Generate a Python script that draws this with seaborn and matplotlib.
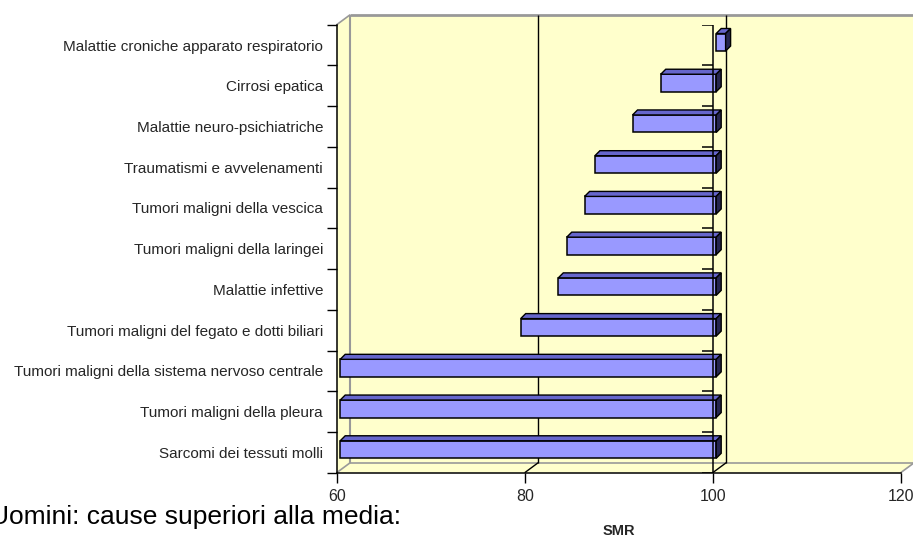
import numpy as np
import pandas as pd
import matplotlib
matplotlib.use("Agg")
import matplotlib.pyplot as plt
import matplotlib.transforms as mtransforms
from matplotlib.patches import Polygon
from matplotlib.ticker import FuncFormatter
import seaborn as sns

# --- data -------------------------------------------------------------
causes = [
    "Malattie croniche apparato respiratorio",
    "Cirrosi epatica",
    "Malattie neuro-psichiatriche",
    "Traumatismi e avvelenamenti",
    "Tumori maligni della vescica",
    "Tumori maligni della laringei",
    "Malattie infettive",
    "Tumori maligni del fegato e dotti biliari",
    "Tumori maligni della sistema nervoso centrale",
    "Tumori maligni della pleura",
    "Sarcomi dei tessuti molli",
]
smr = [101.0, 94.1, 91.1, 87.1, 86.0, 84.1, 83.2, 79.2, 57.0, 55.0, 52.0]
x_ticks = [60, 80, 100, 120]
reference = 100
x_min, x_max = 60, 120

# --- style ------------------------------------------------------------
sns.set_theme(style="white")
plt.rcParams["font.family"] = ["Liberation Sans", "DejaVu Sans"]

W, H = 913, 539
fig = plt.figure(figsize=(W / 100, H / 100), dpi=100)
fig.patch.set_facecolor("white")

# front plane of the 3-D box (pixel coordinates, origin top-left)
FX0, FX1 = 336.7, 900.7
FY0, FY1 = 24.7, 472.7
DX, DY = 13.5, 10.0          # depth of the box
BX, BY = 3.5, 2.8            # bars sit slightly inside the box
D = 5.0                      # thickness of the bars

ax = fig.add_axes([FX0 / W, (H - FY1) / H, (FX1 - FX0) / W, (FY1 - FY0) / H])
ax.set_facecolor("none")

wall = "#ffffcc"
edge_gray = "#999999"
ident = mtransforms.IdentityTransform()


def P(x, y):
    return (x, H - y)


def poly(pts, fc, ec="none", lw=0.0, z=0.2):
    ax.add_patch(Polygon([P(*p) for p in pts], closed=True, facecolor=fc,
                         edgecolor=ec, linewidth=lw, transform=ident,
                         clip_on=False, zorder=z))


def seg(p0, p1, color, lw=1.0, z=0.5):
    (x0, y0), (x1, y1) = P(*p0), P(*p1)
    ax.add_line(plt.Line2D([x0, x1], [y0, y1], color=color, linewidth=lw,
                           transform=ident, clip_on=False, zorder=z,
                           solid_capstyle="butt"))


# walls and floor
poly([(FX0 + DX, FY0 - DY), (W + 2, FY0 - DY), (W + 2, FY1 - DY), (FX0 + DX, FY1 - DY)], wall)
poly([(FX0, FY0), (FX0 + DX, FY0 - DY), (FX0 + DX, FY1 - DY), (FX0, FY1)], wall)
poly([(FX0, FY1), (FX1, FY1), (FX1 + DX, FY1 - DY), (FX0 + DX, FY1 - DY)], wall)
seg((FX0 + DX, FY0 - DY), (W + 2, FY0 - DY), edge_gray, 2.0)
seg((FX0 + DX, FY0 - DY), (FX0 + DX, FY1 - DY), edge_gray, 1.5)
seg((FX0, FY0), (FX0 + DX, FY0 - DY), edge_gray, 1.2)
seg((FX0 + DX, FY1 - DY), (W + 2, FY1 - DY), edge_gray, 1.2)
seg((FX0, FY1), (FX0 + DX, FY1 - DY), edge_gray, 1.2)
seg((FX1, FY1), (FX1 + DX, FY1 - DY), edge_gray, 1.2)

# --- bars -------------------------------------------------------------
drawn = [max(v, x_min) - reference for v in smr]
df = pd.DataFrame({"cause": causes, "dev": drawn})
sns.barplot(data=df, x="dev", y="cause", orient="h", color="#9999ff",
            saturation=1, width=0.43, edgecolor="black", linewidth=1.1,
            errorbar=None, ax=ax, zorder=2)
ax.set_xlim(x_min - reference, x_max - reference)
ax.set_ylim(len(causes) - 0.5, -0.5)

# gridlines on the back wall and floor
for t in x_ticks[1:3]:
    xf = ax.transData.transform((t - reference, 0))[0]
    seg((xf + DX, FY0 - DY), (xf + DX, FY1 - DY), "black", 1.0, 0.6)
    seg((xf, FY1), (xf + DX, FY1 - DY), "black", 1.0, 0.6)

# 3-D faces of the bars
shift = mtransforms.ScaledTranslation(BX / 100, BY / 100, fig.dpi_scale_trans)
for p in ax.patches:
    if not isinstance(p, matplotlib.patches.Rectangle) or p.get_width() == 0:
        continue
    p.set_transform(ax.transData + shift)
    bb = p.get_window_extent()
    x0, x1 = bb.x0, bb.x1
    yb, yt = bb.y0, bb.y1
    top = [(x0, yt), (x1, yt), (x1 + D, yt + D), (x0 + D, yt + D)]
    side = [(x1, yb), (x1, yt), (x1 + D, yt + D), (x1 + D, yb + D)]
    ax.add_patch(Polygon(top, closed=True, facecolor="#6666cc", edgecolor="black",
                         linewidth=1.0, transform=ident, clip_on=False, zorder=2.1))
    ax.add_patch(Polygon(side, closed=True, facecolor="#262650", edgecolor="black",
                         linewidth=1.0, transform=ident, clip_on=False, zorder=2.1))

# category axis crossing at the reference value
ax.axvline(0, color="black", linewidth=1.1, zorder=3)
tick_len = 10.6 / (ax.transData.transform((1, 0))[0] - ax.transData.transform((0, 0))[0])
ax.hlines(np.arange(-0.5, len(causes), 1), -tick_len, 0, color="black",
          linewidth=1.1, zorder=3)

# --- axes decoration -------------------------------------------------
for s in ["top", "right"]:
    ax.spines[s].set_visible(False)
for s in ["left", "bottom"]:
    ax.spines[s].set_color("black")
    ax.spines[s].set_linewidth(1.1)
    ax.spines[s].set_zorder(3)

ax.set_xticks([t - reference for t in x_ticks])
ax.xaxis.set_major_formatter(FuncFormatter(lambda v, _: f"{v + reference:.0f}"))
ax.tick_params(axis="x", which="major", direction="out", length=7.4, width=1,
               color="black", labelsize=11.5, pad=4, bottom=True)
ax.set_yticks(np.arange(-0.5, len(causes), 1), minor=True)
ax.tick_params(axis="y", which="major", length=0, labelsize=11, pad=9.8, left=True)
ax.tick_params(axis="y", which="minor", direction="out", length=7.2, width=1,
               color="black", left=True)

ax.set_ylabel("")
ax.set_xlabel("SMR", fontsize=10.5, fontweight="bold")
ax.xaxis.set_label_coords(0.5, -(524 - FY1) / (FY1 - FY0))

fig.text(401 / W, (H - 524) / H, "Uomini: cause superiori alla media:",
         ha="right", va="baseline", fontsize=19, color="black")

fig.savefig("out.png", dpi=100)
